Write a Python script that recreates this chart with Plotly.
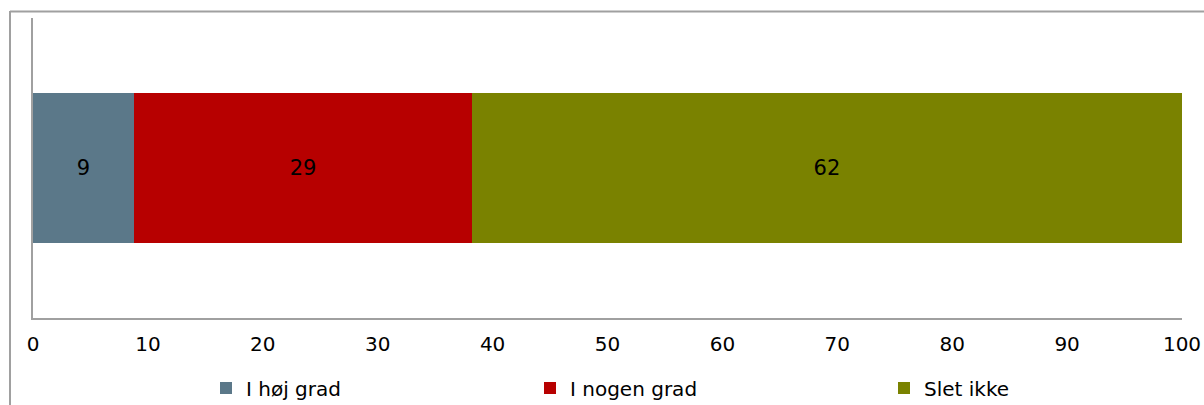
import plotly.graph_objects as go

categories = [""]
series_names = ["I høj grad", "I nogen grad", "Slet ikke"]
series_values = [[8.8], [29.4], [61.8]]
series_labels = [["9"], ["29"], ["62"]]
colors = ["#5B7889", "#B70000", "#7A8200"]
x_ticks = [0, 10, 20, 30, 40, 50, 60, 70, 80, 90, 100]

FONT = "DejaVu Sans, Verdana, sans-serif"

W, H = 1204, 405
# plot area in page pixels
PL, PR, PT, PB = 33, 1182, 18, 318
ml, mt = PL, PT
pw, ph = PR - PL, PB - PT
mr, mb = W - ml - pw, H - mt - ph


def px2paper_x(px):
    return (px - PL) / pw


def px2paper_y(py):
    return 1 - (py - PT) / ph


fig = go.Figure()
legend_ids = ["legend", "legend2", "legend3"]
for name, vals, labs, col, lg in zip(series_names, series_values, series_labels, colors, legend_ids):
    fig.add_trace(go.Bar(
        y=categories, x=vals, name=name, orientation="h",
        marker=dict(color=col, line=dict(width=0)),
        text=labs, textposition="inside", insidetextanchor="middle",
        textangle=0, constraintext="none",
        textfont=dict(color="black", size=21, family=FONT),
        insidetextfont=dict(color="black", size=21, family=FONT),
        legend=lg,
    ))

legend_common = dict(
    orientation="h", yanchor="middle", xanchor="left",
    font=dict(family=FONT, size=20, color="black"),
    bgcolor="rgba(0,0,0,0)", borderwidth=0,
)
legend_px = [206, 530, 884]
legend_y = 388

fig.update_layout(
    width=W, height=H,
    margin=dict(l=ml, r=mr, t=mt, b=mb, pad=0, autoexpand=False),
    barmode="stack", bargap=0.5,
    plot_bgcolor="white", paper_bgcolor="white",
    font=dict(family=FONT, size=20, color="black"),
    showlegend=True,
    legend=dict(x=px2paper_x(legend_px[0]), y=px2paper_y(legend_y), **legend_common),
    legend2=dict(x=px2paper_x(legend_px[1]), y=px2paper_y(legend_y), **legend_common),
    legend3=dict(x=px2paper_x(legend_px[2]), y=px2paper_y(legend_y), **legend_common),
    xaxis=dict(
        range=[0, 100], tickvals=x_ticks, ticktext=[str(v) for v in x_ticks],
        showgrid=False, zeroline=False, showline=True, linecolor="#A0A0A0", linewidth=2,
        ticks="", ticklabelstandoff=7,
        tickfont=dict(size=20, family=FONT, color="black"),
        fixedrange=True,
    ),
    yaxis=dict(
        showgrid=False, zeroline=False, showline=True, linecolor="#A0A0A0", linewidth=2,
        showticklabels=False, ticks="", fixedrange=True,
    ),
    shapes=[
        dict(type="line", xref="paper", yref="paper",
             x0=px2paper_x(10), x1=px2paper_x(10), y0=px2paper_y(11), y1=px2paper_y(420),
             line=dict(color="#A0A0A0", width=2)),
        dict(type="line", xref="paper", yref="paper",
             x0=px2paper_x(10), x1=px2paper_x(1230), y0=px2paper_y(11.5), y1=px2paper_y(11.5),
             line=dict(color="#A0A0A0", width=2)),
    ],
)

fig.write_html(
    "out.html",
    config={"displayModeBar": False},
    post_script="document.body.style.margin='0';document.body.style.overflow='hidden';",
)
